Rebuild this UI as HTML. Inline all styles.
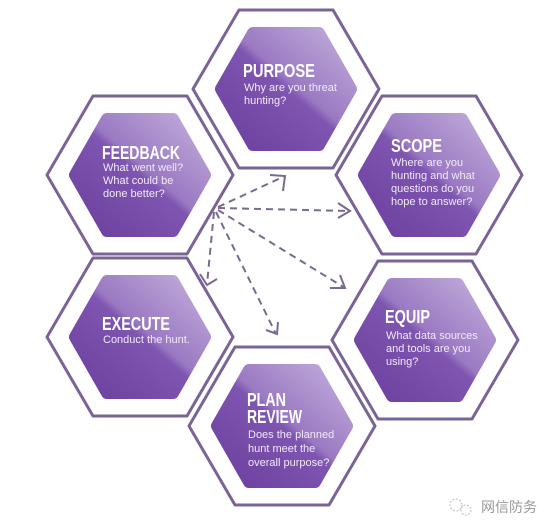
<!DOCTYPE html>
<html><head><meta charset="utf-8"><style>
html,body{margin:0;padding:0;background:#fff;width:550px;height:526px;overflow:hidden}
svg{display:block}
.t{font-family:"Liberation Sans",sans-serif;font-weight:bold;font-size:18px;fill:#fff}
.b{font-family:"Liberation Sans",sans-serif;font-size:11px;fill:#f1eaf8}
</style></head><body>
<svg width="550" height="526" viewBox="0 0 550 526" xmlns="http://www.w3.org/2000/svg">
<defs>
<linearGradient id="g" x1="0" y1="1" x2="1" y2="0">
<stop offset="0" stop-color="#6b3f9e"/>
<stop offset="0.5" stop-color="#7e55b0"/>
<stop offset="0.55" stop-color="#9a79c2"/>
<stop offset="1" stop-color="#c3afdc"/>
</linearGradient>
</defs>
<g fill="#fff" stroke="#7a6495" stroke-width="3" stroke-linejoin="round">
<polygon points="193,89 239,10 333,10 379,89 333,168 239,168"/>
<polygon points="336,175 382,96 476,96 522,175 476,254 382,254"/>
<polygon points="332,340 378,261 472,261 518,340 472,419 378,419"/>
<polygon points="189,426 235,347 329,347 375,426 329,505 235,505"/>
<polygon points="47,337 93,258 187,258 233,337 187,416 93,416"/>
<polygon points="47,175 93,96 187,96 233,175 187,254 93,254"/>
</g>
<g fill="url(#g)" stroke="url(#g)" stroke-width="12" stroke-linejoin="round">
<polygon points="221,89 253,33 319,33 351,89 319,145 253,145"/>
<polygon points="364,175 396,119 462,119 494,175 462,231 396,231"/>
<polygon points="360,340 392,284 458,284 490,340 458,396 392,396"/>
<polygon points="217,426 249,370 315,370 347,426 315,482 249,482"/>
<polygon points="75,337 107,281 173,281 205,337 173,393 107,393"/>
<polygon points="75,175 107,119 173,119 205,175 173,231 107,231"/>
</g>
<g stroke="#7a6a8f" stroke-width="2" fill="none" stroke-dasharray="7,5">
<line x1="218" y1="207" x2="285" y2="176"/>
<line x1="218" y1="208" x2="350" y2="211"/>
<line x1="218" y1="210" x2="345" y2="288"/>
<line x1="216" y1="212" x2="276" y2="334"/>
<line x1="214" y1="212" x2="207" y2="284"/>
</g>
<g stroke="#7a6a8f" stroke-width="2" fill="none">
<polyline points="270,175 285,176 283,191"/>
<polyline points="338,203 350,211 338,218"/>
<polyline points="330,288 345,288 340,275"/>
<polyline points="266,330 277,334 278,322"/>
<polyline points="200,274 207,285 217,279"/>
</g>
<text class="t" x="243" y="77" textLength="72" lengthAdjust="spacingAndGlyphs">PURPOSE</text>
<text class="b"><tspan x="244" y="91">Why are you threat</tspan><tspan x="244" y="104">hunting?</tspan></text>
<text class="t" x="391" y="152" textLength="51" lengthAdjust="spacingAndGlyphs">SCOPE</text>
<text class="b"><tspan x="391" y="166">Where are you</tspan><tspan x="391" y="179">hunting and what</tspan><tspan x="391" y="192">questions do you</tspan><tspan x="391" y="205">hope to answer?</tspan></text>
<text class="t" x="385" y="323" textLength="45" lengthAdjust="spacingAndGlyphs">EQUIP</text>
<text class="b"><tspan x="386" y="339">What data sources</tspan><tspan x="386" y="352">and tools are you</tspan><tspan x="386" y="365">using?</tspan></text>
<text class="t" x="247" y="406" textLength="39" lengthAdjust="spacingAndGlyphs">PLAN</text>
<text class="t" x="247" y="423" textLength="55" lengthAdjust="spacingAndGlyphs">REVIEW</text>
<text class="b"><tspan x="248" y="438">Does the planned</tspan><tspan x="248" y="452">hunt meet the</tspan><tspan x="248" y="466">overall purpose?</tspan></text>
<text class="t" x="102" y="159" textLength="78" lengthAdjust="spacingAndGlyphs">FEEDBACK</text>
<text class="b"><tspan x="103" y="171">What went well?</tspan><tspan x="103" y="184">What could be</tspan><tspan x="103" y="197">done better?</tspan></text>
<text class="t" x="102" y="330" textLength="68" lengthAdjust="spacingAndGlyphs">EXECUTE</text>
<text class="b"><tspan x="103" y="343">Conduct the hunt.</tspan></text>
<g stroke="#bbb" fill="none" stroke-width="1" stroke-dasharray="2,1.5">
<circle cx="456" cy="505" r="6"/><circle cx="466" cy="510" r="5"/>
</g>
<text x="481" y="512" font-family="'Noto Sans CJK SC',sans-serif" font-size="14" fill="#999">网信防务</text>
</svg>
</body></html>
